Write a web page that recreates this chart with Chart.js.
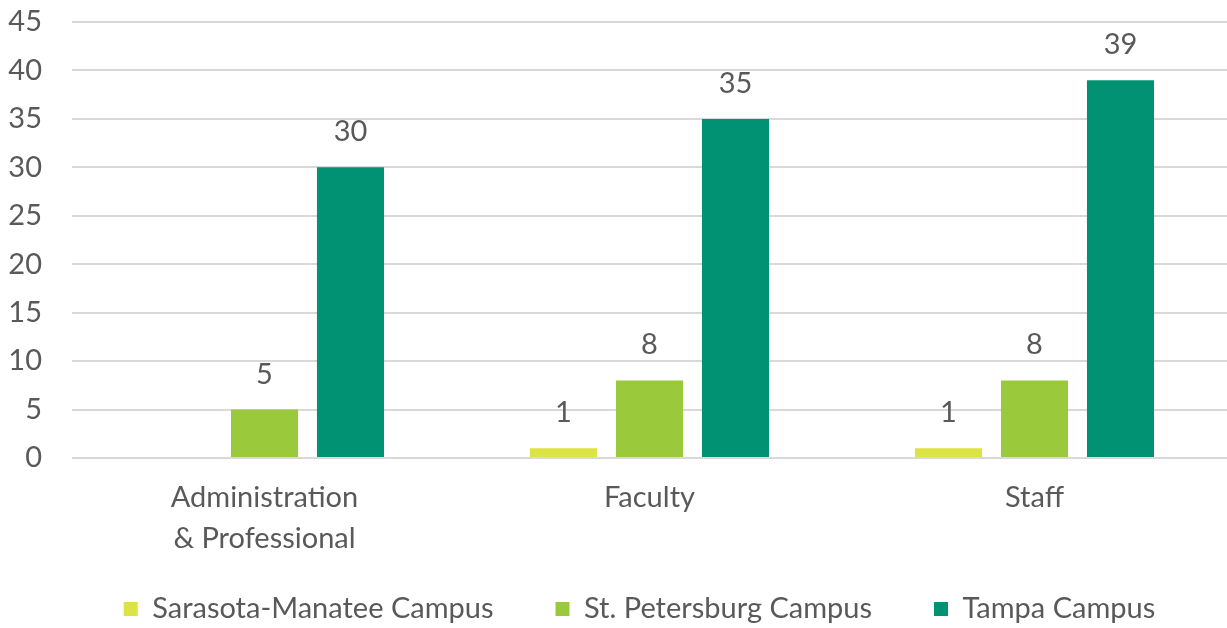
<!DOCTYPE html>
<html>
<head>
    <title>Campus Chart</title>
    <script src="https://cdn.jsdelivr.net/npm/chart.js"></script>
    <style>
        html, body { margin: 0; padding: 0; background: #fff; }
        #wrap { width: 1227px; height: 628px; }
    </style>
</head>
<body>
    <div id="wrap"><canvas id="campusChart"></canvas></div>
    <script>
        const categories = [['Administration', '& Professional'], 'Faculty', 'Staff'];
        const sarasota = [null, 1, 1];
        const stPete = [5, 8, 8];
        const tampa = [30, 35, 39];
        const seriesNames = ['Sarasota-Manatee Campus', 'St. Petersburg Campus', 'Tampa Campus'];
        const seriesColors = ['#DCE344', '#9ACA3C', '#009272'];

        const textColor = '#595959';
        const fontFamily = 'Lato, "Open Sans", sans-serif';
        const fontSize = 29;

        // labels above bars, drawn by hand
        const valueLabels = {
            id: 'valueLabels',
            afterDatasetsDraw(chart) {
                const c = chart.ctx;
                c.save();
                c.fillStyle = textColor;
                c.font = fontSize + 'px ' + fontFamily;
                c.textAlign = 'center';
                c.textBaseline = 'alphabetic';
                chart.data.datasets.forEach((ds, i) => {
                    chart.getDatasetMeta(i).data.forEach((bar, j) => {
                        const v = ds.data[j];
                        if (v === null || v === undefined) return;
                        c.fillText(String(v), bar.x, bar.y - 26);
                    });
                });
                c.restore();
            }
        };

        // legend: short box, wide item gaps, then nudged into place
        const legendPlace = {
            id: 'legendPlace',
            afterInit(chart) {
                const lg = chart.legend;
                if (!lg) return;
                const fit = lg.fit;
                lg.fit = function () {
                    fit.call(this);
                    this.height = 70;
                };
            },
            afterLayout(chart) {
                const lg = chart.legend;
                if (!lg) return;
                lg.top = 609 - 62 - fontSize / 2;
                lg.bottom = chart.height;
                lg.height = lg.bottom - lg.top;
                lg.left += 23;
                lg.right += 23;
            }
        };

        const datasets = [sarasota, stPete, tampa].map((vals, i) => ({
            label: seriesNames[i],
            data: vals,
            backgroundColor: seriesColors[i],
            barPercentage: 0.78,
            categoryPercentage: 0.67
        }));

        new Chart(document.getElementById('campusChart'), {
            type: 'bar',
            data: { labels: categories, datasets: datasets },
            options: {
                responsive: true,
                maintainAspectRatio: false,
                animation: false,
                layout: { padding: { top: 0, left: 0, bottom: 0, right: -6 } },
                scales: {
                    x: {
                        grid: { display: false },
                        border: { display: false },
                        afterFit(scale) { scale.height = 100; },
                        ticks: {
                            color: textColor,
                            padding: 11,
                            maxRotation: 0,
                            font: { family: fontFamily, size: fontSize, lineHeight: 1.42 }
                        }
                    },
                    y: {
                        min: 0,
                        max: 45,
                        grid: { color: '#D9D9D9', lineWidth: 2, drawTicks: false },
                        border: { display: false },
                        afterFit(scale) {
                            scale.width = 72;
                            scale.paddingTop = 22;
                            scale.paddingBottom = 0;
                        },
                        ticks: {
                            stepSize: 5,
                            color: textColor,
                            padding: 30,
                            font: { family: fontFamily, size: fontSize }
                        }
                    }
                },
                plugins: {
                    tooltip: { enabled: false },
                    legend: {
                        position: 'bottom',
                        labels: {
                            color: textColor,
                            boxWidth: 14,
                            boxHeight: 14,
                            padding: 62,
                            font: { family: fontFamily, size: fontSize }
                        }
                    }
                }
            },
            plugins: [valueLabels, legendPlace]
        });
    </script>
</body>
</html>
